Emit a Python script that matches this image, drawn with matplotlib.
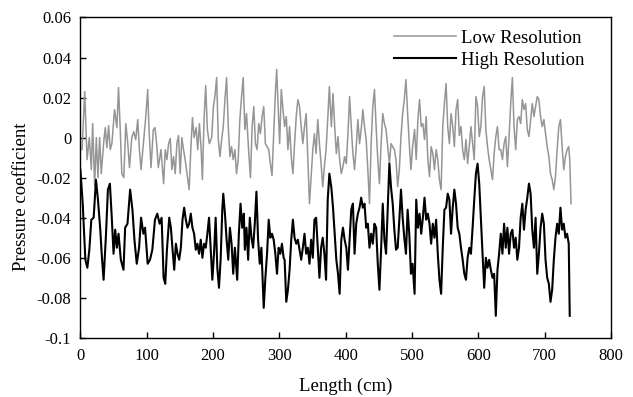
import numpy as np
import matplotlib
matplotlib.use('Agg')
import matplotlib.pyplot as plt
from matplotlib.ticker import FuncFormatter

# Low resolution series (gray)
low_x = [2.5, 6.5, 10, 13.5, 16.5, 18.5, 21.5, 24, 26.5, 29, 31.5, 35, 37.5, 40, 42.5, 45, 47.5, 51.5, 55, 57.5,
         60, 62.5, 65.5, 68.5, 71.5, 74, 77.5, 80.5, 83.5, 86.5, 89, 91.5, 95, 98.5, 101.5, 103.5, 106.5, 110, 112.5, 115,
         117.5, 121.5, 125.5, 128, 130.5, 133, 135.5, 138, 140.5, 143, 145.5, 148, 150.5, 153, 155.5, 158, 161.5, 164, 166.5, 169,
         171.5, 174.5, 177, 179.5, 182, 184, 186.5, 189, 191.5, 194.5, 198, 200.5, 203, 205.5, 208, 210.5, 213, 215.5, 218, 220.5,
         223, 225.5, 228, 230.5, 233, 235.5, 238, 240.5, 243, 245.5, 248, 250.5, 254, 256.5, 259, 261.5, 264, 266.5, 269, 271.5,
         274, 276.5, 279, 281.5, 284, 286.5, 289, 291.5, 294, 296, 298, 300.5, 303, 305.5, 308, 310.5, 313, 315.5, 318, 320.5,
         323, 325.5, 328, 330.5, 333, 335.5, 338, 340.5, 343, 345.5, 348, 350.5, 353, 355.5, 358, 360.5, 363, 365.5, 368, 370.5,
         373, 375.5, 378.5, 381, 383.5, 386, 388.5, 391, 393.5, 396, 398.5, 401, 403.5, 406, 408.5, 411, 413.5, 416, 418.5, 421,
         423.5, 426, 428.5, 431, 433.5, 436, 438.5, 441, 443.5, 446, 448.5, 451, 453.5, 456, 458.5, 461, 463.5, 466, 468.5, 471,
         473.5, 476, 478.5, 481, 483.5, 486, 488.5, 491, 493.5, 496, 498.5, 501, 504, 506.5, 509, 511.5, 514, 516.5, 519, 521.5,
         524, 526.5, 529, 531.5, 534, 536.5, 539, 541.5, 544, 546.5, 549, 551.5, 554, 556.5, 559, 561.5, 564, 566.5, 569, 571.5,
         574, 576.5, 579, 581.5, 584, 586.5, 589, 591.5, 594, 596.5, 599, 601.5, 604, 606.5, 609, 611.5, 614, 616.5, 619, 621.5,
         624, 626.5, 629, 631.5, 634, 636.5, 639, 641.5, 644, 646.5, 649, 651.5, 654, 656.5, 659, 661.5, 664, 666.5, 669, 671.5,
         674, 676.5, 679, 681.5, 684, 686.5, 689, 691.5, 694, 696.5, 699, 701.5, 704, 706.5, 709, 711.5, 714, 716.5, 719, 721.5,
         724, 726.5, 729, 731.5, 734, 736.5, 738, 740]
low_cp = [-0.006, 0.023, -0.011, 0.0, -0.016, 0.007, -0.024, 0.0, -0.020, 0.0, -0.018, -0.003, 0.005, -0.005, 0.006, -0.006, -0.003, 0.014, 0.005, 0.025,
          0.005, -0.018, -0.020, 0.007, -0.003, -0.015, 0.0, 0.003, -0.001, 0.009, -0.006, -0.016, -0.003, 0.010, 0.024, 0.004, -0.015, 0.004, 0.005, -0.003,
          -0.015, -0.006, -0.023, -0.006, -0.011, -0.003, -0.0004, -0.016, -0.0095, -0.018, -0.003, 0.001, -0.018, 0.0, -0.006, -0.011, -0.020, -0.026, -0.006, 0.010,
          0.0, 0.005, -0.006, 0.007, -0.005, -0.021, 0.009, 0.026, 0.004, -0.003, 0.0, 0.015, 0.021, 0.030, -0.001, -0.0095, -0.001, 0.0055, 0.019, 0.030,
          0.0055, -0.0095, -0.0045, -0.011, -0.006, -0.018, -0.011, 0.009, 0.020, 0.030, 0.004, 0.012, -0.008, -0.020, 0.0055, 0.0155, -0.003, -0.006, 0.007, 0.002,
          0.0105, 0.0155, -0.003, -0.0045, -0.006, -0.013, -0.019, 0.002, 0.022, 0.034, 0.017, -0.003, 0.024, 0.014, 0.0055, 0.0105, -0.006, 0.0055, -0.0095, -0.018,
          -0.003, 0.0105, 0.019, 0.0155, 0.0055, -0.003, 0.0055, 0.012, -0.011, -0.033, -0.0195, -0.006, 0.002, -0.008, 0.009, -0.003, -0.013, -0.0245, -0.0145, -0.006,
          0.009, 0.0255, 0.0055, 0.022, 0.0055, -0.008, 0.0005, -0.011, -0.018, -0.0145, -0.0095, -0.013, 0.002, 0.0205, 0.0055, -0.008, -0.016, -0.0045, 0.009, -0.003,
          0.004, 0.014, 0.0055, -0.001, -0.016, -0.033, -0.003, 0.0155, 0.024, 0.0055, -0.011, -0.023, -0.003, 0.012, 0.007, 0.004, -0.0045, -0.013, -0.003, -0.0045,
          -0.006, -0.011, -0.0245, -0.016, 0.0005, 0.012, 0.019, 0.029, 0.012, -0.003, -0.016, -0.0045, 0.004, -0.011, 0.009, 0.019, 0.0055, 0.007, -0.001, 0.0105,
          -0.011, -0.0195, -0.0045, -0.008, -0.016, -0.006, -0.011, -0.021, -0.026, 0.0055, 0.017, 0.027, 0.0055, -0.003, 0.012, 0.0055, -0.0045, 0.014, 0.019, 0.001,
          0.0055, -0.006, -0.011, -0.001, -0.013, -0.0045, 0.0055, -0.003, -0.011, 0.0205, 0.0155, 0.0005, 0.0055, 0.0205, 0.0255, 0.004, -0.0045, -0.011, -0.016, -0.021,
          -0.008, 0.0005, 0.0055, -0.006, -0.006, -0.011, -0.003, 0.0005, -0.0145, 0.0005, 0.017, 0.030, 0.0055, -0.006, 0.009, 0.0105, 0.007, 0.019, 0.014, 0.017,
          0.004, 0.0005, 0.009, 0.017, 0.0105, 0.0155, 0.0205, 0.019, 0.0105, 0.0055, 0.009, 0.002, -0.0045, -0.0095, -0.018, -0.021, -0.026, -0.0195, -0.006, 0.0055,
          0.009, -0.0045, -0.016, -0.0095, -0.006, -0.0045, -0.011, -0.033]

# High resolution series (black)
high_x = [0, 3.5, 7.5, 10.5, 13.5, 16.5, 20, 23.5, 26.5, 30, 32.5, 35, 38.5, 41.5, 44.5, 47.5, 50, 52.5, 55, 57.5,
          61, 65, 67.5, 71, 75, 78.5, 81.5, 85, 88.5, 91.5, 95, 97.5, 101.5, 105, 108.5, 112.5, 116, 119.5, 122.5, 125.5,
          128, 130.5, 134, 136.5, 139, 141.5, 144, 146.5, 149, 151.5, 154, 156.5, 159, 161.5, 164, 166.5, 169, 171.5, 174, 176.5,
          179, 181.5, 184, 186.5, 189, 191.5, 194, 196.5, 199, 201.5, 204, 206.5, 209, 211.5, 214, 215.5, 218, 220.5, 223, 225.5,
          228, 230.5, 233, 236.5, 239, 241.5, 244, 246.5, 248, 250.5, 253, 255.5, 258, 260.5, 263, 265.5, 268, 270.5, 273, 276.5,
          279, 281.5, 284, 286.5, 289, 291.5, 294, 296.5, 299, 301.5, 304, 306.5, 308, 310.5, 313, 315.5, 318, 320.5, 323, 325.5,
          328, 330.5, 333, 335.5, 338, 340.5, 343, 345.5, 348, 350.5, 353, 355.5, 358, 360.5, 363, 365.5, 368, 370.5, 373, 375.5,
          378.5, 381, 383.5, 386, 388.5, 391, 393.5, 396, 398.5, 401, 403.5, 406, 408.5, 411, 413.5, 416, 418.5, 421, 423.5, 426,
          428.5, 431, 433.5, 436, 438.5, 441, 443.5, 446, 448.5, 451, 453.5, 456, 458.5, 461, 463.5, 466, 468.5, 471, 473.5, 476,
          478.5, 481, 483.5, 486, 488.5, 491, 493.5, 496, 498.5, 501, 504, 506.5, 509, 511.5, 514, 516.5, 519, 521.5, 524, 526.5,
          529, 531.5, 534, 536.5, 539, 541.5, 544, 546.5, 549, 551.5, 554, 556.5, 559, 561.5, 564, 566.5, 569, 571.5, 574, 576.5,
          579, 581.5, 584, 586.5, 589, 591.5, 594, 596.5, 599, 601.5, 604, 606.5, 609, 611.5, 614, 616.5, 619, 621.5, 624, 626.5,
          629, 631.5, 634, 636.5, 639, 641.5, 644, 646.5, 649, 651.5, 654, 656.5, 659, 661.5, 664, 666.5, 669, 671.5, 674, 676.5,
          679, 681.5, 684, 686.5, 689, 691.5, 694, 696.5, 699, 701.5, 704, 706.5, 709, 711.5, 714, 716.5, 719, 721.5, 724, 726.5,
          729, 731.5, 734, 736.5, 738]
high_cp = [-0.016, -0.033, -0.061, -0.065, -0.056, -0.041, -0.040, -0.021, -0.031, -0.046, -0.060, -0.071, -0.049, -0.026, -0.023, -0.041, -0.058, -0.046, -0.055, -0.048,
           -0.061, -0.066, -0.045, -0.043, -0.026, -0.036, -0.051, -0.063, -0.055, -0.040, -0.048, -0.045, -0.063, -0.061, -0.056, -0.041, -0.038, -0.043, -0.040, -0.070,
           -0.073, -0.056, -0.040, -0.045, -0.056, -0.066, -0.053, -0.058, -0.061, -0.055, -0.041, -0.035, -0.041, -0.045, -0.043, -0.038, -0.045, -0.048, -0.056, -0.053,
           -0.058, -0.051, -0.060, -0.053, -0.055, -0.048, -0.040, -0.055, -0.071, -0.058, -0.040, -0.065, -0.075, -0.061, -0.036, -0.028, -0.038, -0.051, -0.061, -0.045,
           -0.053, -0.068, -0.055, -0.071, -0.048, -0.033, -0.045, -0.038, -0.056, -0.045, -0.061, -0.040, -0.050, -0.055, -0.043, -0.027, -0.051, -0.063, -0.055, -0.085,
           -0.070, -0.058, -0.041, -0.050, -0.048, -0.051, -0.058, -0.068, -0.055, -0.058, -0.053, -0.060, -0.061, -0.082, -0.076, -0.066, -0.051, -0.041, -0.050, -0.053,
           -0.051, -0.056, -0.061, -0.055, -0.048, -0.058, -0.055, -0.063, -0.051, -0.060, -0.041, -0.040, -0.055, -0.070, -0.055, -0.050, -0.058, -0.071, -0.031, -0.018,
           -0.025, -0.035, -0.048, -0.061, -0.068, -0.078, -0.051, -0.045, -0.051, -0.055, -0.066, -0.051, -0.036, -0.033, -0.058, -0.043, -0.038, -0.035, -0.030, -0.035,
           -0.033, -0.045, -0.043, -0.055, -0.048, -0.053, -0.043, -0.045, -0.063, -0.076, -0.056, -0.033, -0.051, -0.058, -0.036, -0.013, -0.025, -0.033, -0.046, -0.056,
           -0.055, -0.041, -0.026, -0.040, -0.050, -0.058, -0.036, -0.048, -0.068, -0.063, -0.078, -0.031, -0.045, -0.038, -0.048, -0.040, -0.030, -0.041, -0.038, -0.043,
           -0.053, -0.043, -0.050, -0.041, -0.058, -0.071, -0.078, -0.055, -0.036, -0.035, -0.028, -0.031, -0.048, -0.035, -0.026, -0.033, -0.045, -0.048, -0.055, -0.061,
           -0.068, -0.071, -0.060, -0.055, -0.058, -0.045, -0.031, -0.018, -0.013, -0.023, -0.041, -0.058, -0.075, -0.060, -0.065, -0.061, -0.066, -0.070, -0.068, -0.089,
           -0.066, -0.058, -0.048, -0.058, -0.043, -0.055, -0.045, -0.058, -0.048, -0.046, -0.055, -0.050, -0.061, -0.055, -0.040, -0.033, -0.046, -0.036, -0.030, -0.023,
           -0.028, -0.046, -0.055, -0.040, -0.068, -0.058, -0.045, -0.038, -0.043, -0.061, -0.070, -0.073, -0.082, -0.076, -0.061, -0.050, -0.043, -0.048, -0.035, -0.046,
           -0.043, -0.050, -0.048, -0.053, -0.089]

plt.rcParams['font.family'] = 'Liberation Serif'
plt.rcParams['axes.unicode_minus'] = False

fig = plt.figure(figsize=(6.33, 3.97), dpi=100)
ax = fig.add_axes([0.127, 0.149, 0.838, 0.807])

ax.plot(low_x, low_cp, color='#959595', lw=1.1, label='Low Resolution')
ax.plot(high_x, high_cp, color='black', lw=1.5, label='High Resolution')

ax.set_xlim(0, 800)
ax.set_ylim(-0.1, 0.06)
ax.set_xticks(np.arange(0, 801, 100))
ax.set_yticks(np.arange(-0.1, 0.061, 0.02))
ax.yaxis.set_major_formatter(FuncFormatter(lambda v, p: '%g' % round(v, 2)))
ax.tick_params(direction='in', length=4, labelsize=12, width=1, pad=6.5)
ax.tick_params(axis='x', pad=7)
for s in ax.spines.values():
    s.set_linewidth(1)

ax.set_xlabel('Length (cm)', fontsize=13.5, labelpad=10)
ax.set_ylabel('Pressure coefficient', fontsize=13.5)
ax.yaxis.set_label_coords(-0.095, 0.44)

ax.legend(loc='upper right', frameon=False, fontsize=13.5, handlelength=3.3,
          handletextpad=0.27, labelspacing=0.25, borderaxespad=0,
          bbox_to_anchor=(0.965, 0.985))

fig.savefig('out.png', dpi=100)
